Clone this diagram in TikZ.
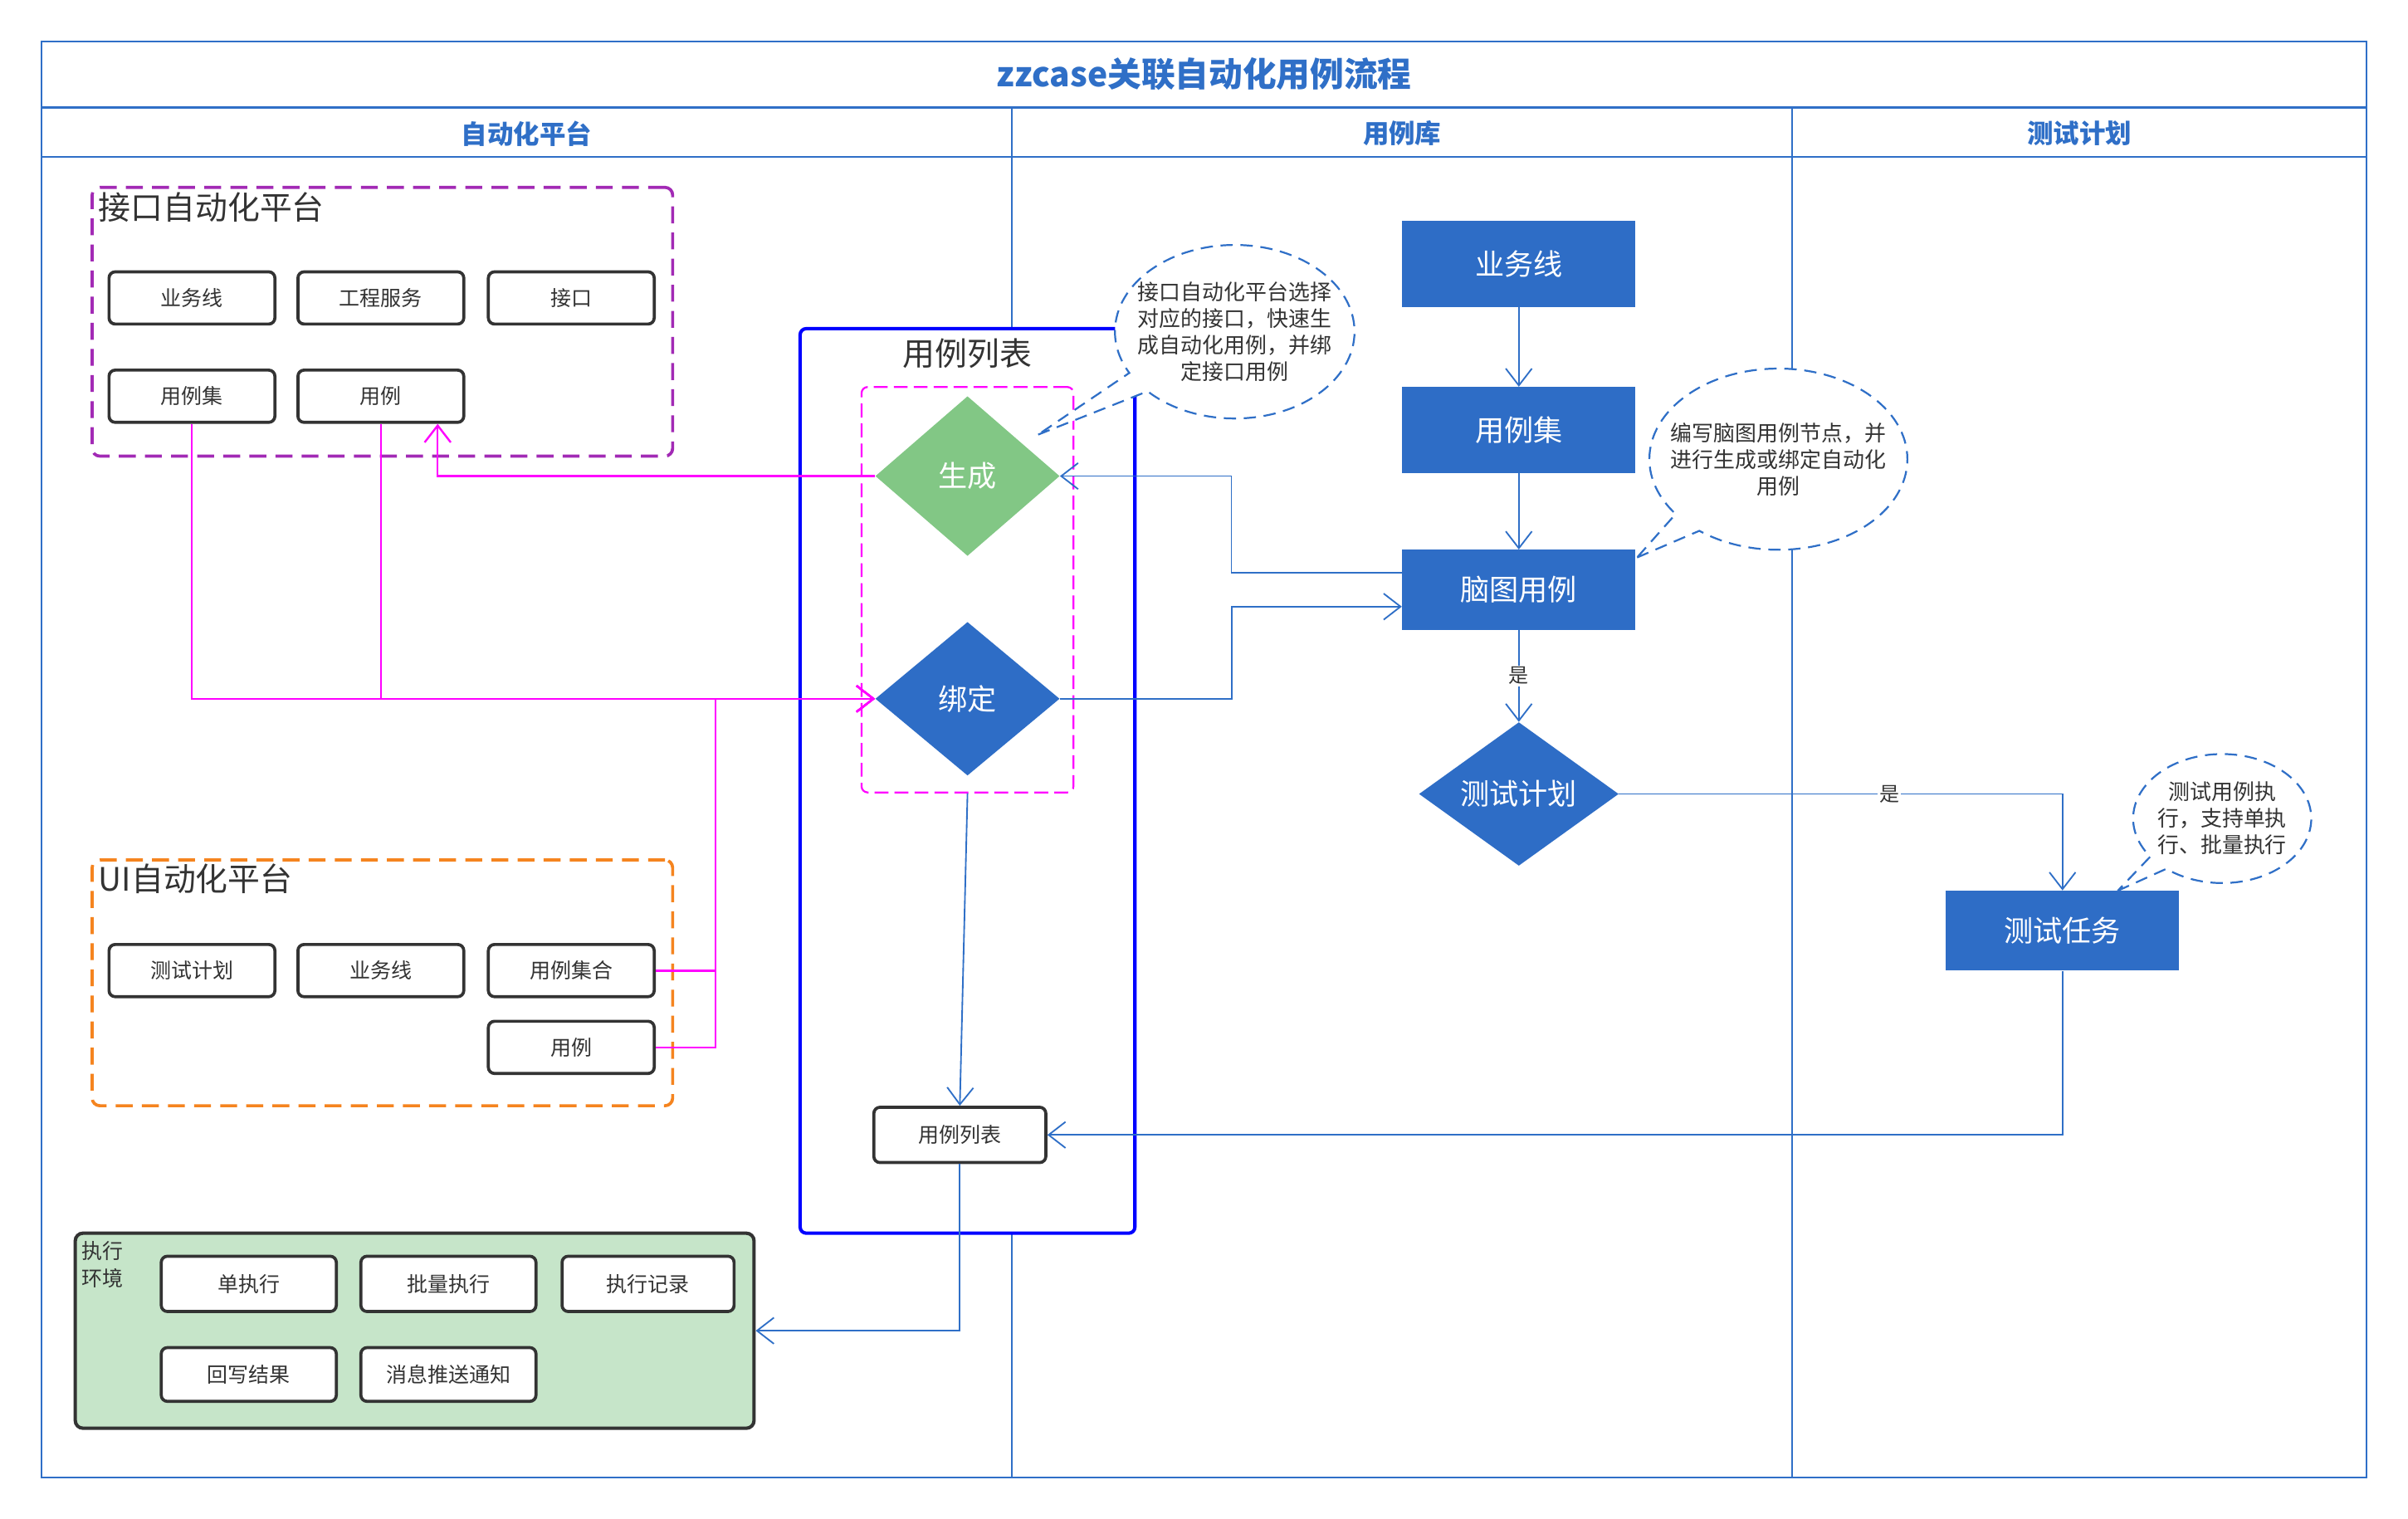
\documentclass[tikz,border=0pt]{standalone}
\usepackage{fontspec}
\setmainfont{Noto Sans CJK SC}
\usetikzlibrary{shapes.geometric,shapes.callouts,arrows.meta}
\definecolor{lane}{HTML}{2F6FC7}
\definecolor{bfill}{HTML}{2E6DC6}
\definecolor{gfill}{HTML}{82C785}
\definecolor{envfill}{HTML}{C6E5C9}
\definecolor{purp}{HTML}{A22AB5}
\definecolor{oran}{HTML}{F5841F}
\definecolor{mag}{HTML}{FF00FF}
\definecolor{cblue}{HTML}{0000FF}
\definecolor{dk}{HTML}{333333}
\begin{document}
\begin{tikzpicture}[x=1pt,y=-1pt,
  arr/.style={-{Straight Barb[length=11pt,width=17pt]}},
  sbox/.style={draw=dk,line width=2pt,rounded corners=4pt,fill=white,minimum width=108pt,minimum height=34pt,inner sep=0pt,text=dk,font=\fontsize{13.5}{16}\selectfont},
  bbox/.style={fill=bfill,minimum width=152pt,inner sep=0pt,text=white,font=\fontsize{19}{23}\selectfont},
  dmd/.style={diamond,aspect=1,inner sep=0pt,text=white,font=\fontsize{19}{23}\selectfont},
  bcon/.style={draw=lane,line width=1pt,arr},
  mcon/.style={draw=mag,line width=1.3pt,arr},
  callo/.style={ellipse callout,draw=lane,dash pattern=on 8pt off 5pt,line width=1.2pt,fill=white,inner sep=0pt},
  ctext/.style={align=center,text=dk,font=\fontsize{14}{17.3}\selectfont},
  hdr/.style={text=lane,font=\bfseries\fontsize{17}{20}\selectfont},
  bigt/.style={anchor=west,inner sep=1pt,text=dk,font=\fontsize{21}{25}\selectfont},
  lbl/.style={fill=white,inner sep=1pt,text=dk,font=\fontsize{13}{15}\selectfont},
]
\useasboundingbox (0,0) rectangle (1568,989);
\fill[white] (0,0) rectangle (1568,989);
% pool
\draw[lane,line width=1.2pt] (27,27) rectangle (1541,962);
\draw[lane,line width=1.5pt] (27,70) -- (1541,70);
\draw[lane,line width=1.2pt] (27,102) -- (1541,102);
\draw[lane,line width=1pt] (659,70) -- (659,962);
\draw[lane,line width=1pt] (1167,70) -- (1167,962);
\node[text=lane,font=\bfseries\fontsize{22}{26}\selectfont] (title) at (784,48) {zzcase关联自动化用例流程};
\node[hdr] (h1) at (343,87) {自动化平台};
\node[hdr] (h2) at (913,87) {用例库};
\node[hdr] (h3) at (1354,87) {测试计划};
% containers
\node[draw=purp,line width=2pt,dash pattern=on 11pt off 6pt,rounded corners=5pt,minimum width=378pt,minimum height=175pt] (jkp) at (249,209.5) {};
\node[bigt] (jkpt) at (63,135) {接口自动化平台};
\node[draw=oran,line width=2pt,dash pattern=on 11pt off 6pt,rounded corners=5pt,minimum width=378pt,minimum height=160pt] (uip) at (249,640) {};
\node[bigt] (uipt) at (63,572) {UI自动化平台};
\node[draw=cblue,line width=2.2pt,rounded corners=4pt,fill=white,minimum width=218pt,minimum height=589pt] (lst) at (630,508.5) {};
\node[text=dk,font=\fontsize{21}{25}\selectfont] (lstt) at (630,230) {用例列表};
\node[draw=mag,line width=1.2pt,dash pattern=on 9pt off 4pt,rounded corners=4pt,minimum width=138pt,minimum height=264pt] (mgb) at (630,384) {};
\node[draw=dk,line width=2.2pt,rounded corners=5pt,fill=envfill,minimum width=442pt,minimum height=127pt] (env) at (270,866.5) {};
\node[anchor=north west,align=left,inner sep=1pt,text=dk,font=\fontsize{13.5}{18}\selectfont] (envl) at (52,807) {执行\\环境};
% small boxes
\node[sbox] (jk1) at (125,194) {业务线};
\node[sbox] (jk2) at (248,194) {工程服务};
\node[sbox] (jk3) at (372,194) {接口};
\node[sbox] (jk4) at (125,258) {用例集};
\node[sbox] (jk5) at (248,258) {用例};
\node[sbox] (ui1) at (125,632) {测试计划};
\node[sbox] (ui2) at (248,632) {业务线};
\node[sbox] (ui3) at (372,632) {用例集合};
\node[sbox] (ui4) at (372,682) {用例};
\node[sbox,minimum width=114pt,minimum height=36pt] (ex1) at (162,836) {单执行};
\node[sbox,minimum width=114pt,minimum height=36pt] (ex2) at (292,836) {批量执行};
\node[sbox,minimum width=112pt,minimum height=36pt] (ex3) at (422,836) {执行记录};
\node[sbox,minimum width=114pt,minimum height=35pt] (ex4) at (162,895) {回写结果};
\node[sbox,minimum width=114pt,minimum height=35pt] (ex5) at (292,895) {消息推送通知};
\node[sbox,minimum width=112pt,minimum height=36pt] (lb) at (625,739) {用例列表};
% flow shapes
\node[dmd,fill=gfill,minimum width=120pt,minimum height=104pt] (gen) at (630,310) {生成};
\node[dmd,fill=bfill,minimum width=120pt,minimum height=100pt] (bind) at (630,455) {绑定};
\node[bbox,minimum height=56pt] (bl) at (989,172) {业务线};
\node[bbox,minimum height=56pt] (cs) at (989,280) {用例集};
\node[bbox,minimum height=52pt] (mm) at (989,384) {脑图用例};
\node[dmd,fill=bfill,minimum width=130pt,minimum height=83pt] (tp) at (989,517) {测试计划};
\node[bbox,minimum height=52pt] (tt) at (1343,606) {测试任务};
% magenta connectors
\coordinate (m1end) at (285,276);
\draw[mcon] (gen.west) -| (m1end);
\draw[mcon] (jk4.south) |- (bind.west);
\draw[mcon] (jk5.south) |- (bind.west);
\draw[mcon] (ui3.east) -- ++(39,0) |- (bind.west);
\draw[mcon] (ui4.east) -- ++(39,0) |- (bind.west);
% blue connectors
\draw[bcon] (bl.south) -- (cs.north);
\draw[bcon] (cs.south) -- (mm.north);
\draw[bcon] ([yshift=11pt]mm.west) -- ++(-111,0) |- (gen.east);
\draw[bcon] (bind.east) -- ++(112,0) |- ([yshift=-11pt]mm.west);
\draw[bcon] (mm.south) -- (tp.north) node[lbl,midway] {是};
\draw[bcon] (tp.east) -| (tt.north) node[lbl,pos=0.305] {是};
\draw[bcon] (tt.south) |- (lb.east);
\draw[bcon] (mgb.south) -- (lb.north);
\draw[bcon] (lb.south) |- (env.east);
% callouts
\coordinate (t1) at (676,283);
\coordinate (t2) at (1066,363);
\coordinate (t3) at (1379,580);
\node[callo,callout absolute pointer={(t1)},minimum width=156pt,minimum height=113pt] (c1) at (804,216) {};
\node[ctext] (c1t) at (c1.center) {接口自动化平台选择\\对应的接口，快速生\\成自动化用例，并绑\\定接口用例};
\node[callo,callout absolute pointer={(t2)},minimum width=168pt,minimum height=118pt] (c2) at (1158,299) {};
\node[ctext] (c2t) at (c2.center) {编写脑图用例节点，并\\进行生成或绑定自动化\\用例};
\node[callo,callout absolute pointer={(t3)},minimum width=116pt,minimum height=84pt] (c3) at (1447,533) {};
\node[ctext] (c3t) at (c3.center) {测试用例执\\行，支持单执\\行、批量执行};
\end{tikzpicture}
\end{document}
